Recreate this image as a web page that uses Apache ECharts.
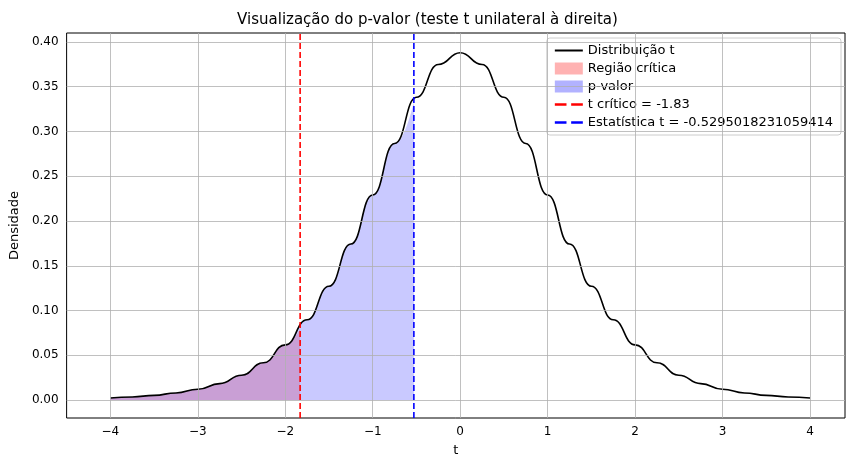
<!DOCTYPE html>
<html><head><meta charset="utf-8">
<script src="https://cdn.jsdelivr.net/npm/echarts@6/dist/echarts.min.js"></script>
<style>html,body{margin:0;padding:0;background:#fff}#c{width:855px;height:471px}</style>
</head><body><div id="c"></div>
<script>
const tValues = [-4,-3.75,-3.5,-3.25,-3,-2.75,-2.5,-2.25,-2,-1.75,-1.5,-1.25,-1,-0.75,-0.5,-0.25,0,0.25,0.5,0.75,1,1.25,1.5,1.75,2,2.25,2.5,2.75,3,3.25,3.5,3.75,4];
const density = [0.0023,0.0035,0.0053,0.0080,0.0121,0.0184,0.0278,0.0417,0.0617,0.0897,0.1271,0.1743,0.2291,0.2866,0.3383,0.3748,0.3880,0.3748,0.3383,0.2866,0.2291,0.1743,0.1271,0.0897,0.0617,0.0417,0.0278,0.0184,0.0121,0.0080,0.0053,0.0035,0.0023];
const tCritical = -1.83, densAtCritical = 0.0798;
const tStat = -0.5295018231059414, densAtStat = 0.3327;
const xTicks = [-4,-3,-2,-1,0,1,2,3,4];
const yTicks = [0,0.05,0.10,0.15,0.20,0.25,0.30,0.35,0.40];

const curve = tValues.map((t,i)=>[t,density[i]]);
const redArea = curve.filter(p=>p[0]<tCritical).concat([[tCritical,densAtCritical]]);
const blueArea = curve.filter(p=>p[0]<tStat).concat([[tStat,densAtStat]]);
const font = 'DejaVu Sans';
const near = (v,arr)=>arr.some(a=>Math.abs(a-v)<1e-6);
const chart = echarts.init(document.getElementById('c'));
chart.setOption({
  animation:false,
  textStyle:{fontFamily:font,color:'#000'},
  title:{text:'Visualização do p-valor (teste t unilateral à direita)',left:'center',top:8,
    textStyle:{fontFamily:font,fontSize:15,fontWeight:'normal',color:'#000'}},
  grid:{left:63,right:10,top:33,bottom:53,show:true,borderColor:'#000',borderWidth:1},
  xAxis:{type:'value',min:-4.5,max:4.4,interval:0.5,name:'t',nameLocation:'middle',nameGap:26,
    nameTextStyle:{fontSize:13,color:'#000'},
    axisLine:{show:false},axisTick:{show:false},
    axisLabel:{color:'#000',fontSize:12,showMinLabel:false,showMaxLabel:false,
      formatter:v=>near(v,xTicks)?(v<0?'−'+(-v):''+v):''},
    splitLine:{show:false}},
  yAxis:{type:'value',min:-0.02,max:0.41,interval:0.01,name:'Densidade',nameLocation:'middle',nameGap:44,
    nameTextStyle:{fontSize:13,color:'#000'},
    axisLine:{show:false},axisTick:{show:false},
    axisLabel:{color:'#000',fontSize:12,showMinLabel:false,showMaxLabel:false,
      formatter:v=>near(v,yTicks)?v.toFixed(2):''},
    splitLine:{show:false}},
  legend:{orient:'vertical',right:14,top:38,itemGap:5,itemWidth:28,itemHeight:12,
    backgroundColor:'rgba(255,255,255,0.85)',borderColor:'#ccc',borderWidth:1,borderRadius:3,padding:[6,8],
    textStyle:{fontFamily:font,fontSize:13,color:'#000'},
    data:[{name:'Distribuição t',icon:'path://M0,5L28,5L28,7L0,7Z'},
          {name:'Região crítica',icon:'rect'},
          {name:'p-valor',icon:'rect'},
          {name:'t crítico = -1.83',icon:'path://M0,5L10,5L10,7L0,7ZM14,5L24,5L24,7L14,7Z'},
          {name:'Estatística t = -0.5295018231059414',icon:'path://M0,5L10,5L10,7L0,7ZM14,5L24,5L24,7L14,7Z'}]},
  series:[
    {name:'grid',type:'line',data:[],silent:true,z:0,
      markLine:{silent:true,symbol:'none',label:{show:false},animation:false,
        lineStyle:{color:'#b0b0b0',width:0.8,type:'solid'},
        data:xTicks.map(x=>({xAxis:x})).concat(yTicks.map(y=>({yAxis:y})))}},
    {name:'Região crítica',type:'line',data:redArea,smooth:true,smoothMonotone:'x',symbol:'none',lineStyle:{width:0},
      itemStyle:{color:'rgba(255,0,0,0.3)'},areaStyle:{color:'rgba(255,0,0,0.3)',origin:0},z:1},
    {name:'p-valor',type:'line',data:blueArea,smooth:true,smoothMonotone:'x',symbol:'none',lineStyle:{width:0},
      itemStyle:{color:'rgba(0,0,255,0.3)'},areaStyle:{color:'rgba(0,0,255,0.3)',origin:0},z:1},
    {name:'Distribuição t',type:'line',data:curve,smooth:true,smoothMonotone:'x',symbol:'none',
      lineStyle:{color:'#000',width:1.6},itemStyle:{color:'#000'},z:3},
    {name:'t crítico = -1.83',type:'line',data:[[tCritical,-0.02],[tCritical,0.41]],symbol:'none',
      lineStyle:{color:'#ff0000',width:1.6,type:[6,3]},itemStyle:{color:'#ff0000'},z:4},
    {name:'Estatística t = -0.5295018231059414',type:'line',data:[[tStat,-0.02],[tStat,0.41]],symbol:'none',
      lineStyle:{color:'#0000ff',width:1.6,type:[6,3]},itemStyle:{color:'#0000ff'},z:4}
  ]
});
</script></body></html>
